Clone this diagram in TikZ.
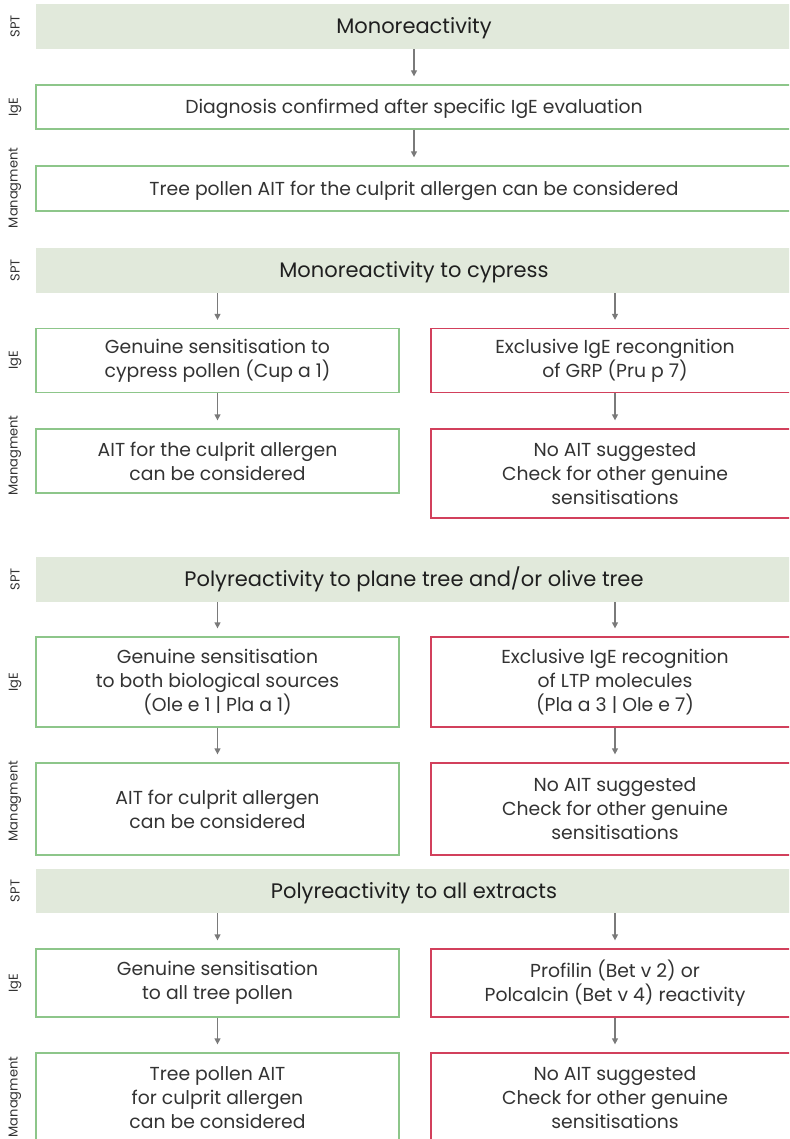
\documentclass[tikz,border=0pt]{standalone}
\usepackage{fontspec}
\setmainfont{Poppins}
\usetikzlibrary{arrows.meta}

\definecolor{bannerfill}{HTML}{E1E9DB}
\definecolor{okgreen}{HTML}{8DC68A}
\definecolor{badred}{HTML}{D2405C}
\definecolor{arrowgrey}{HTML}{7A7A7A}
\definecolor{textgrey}{HTML}{333333}

\begin{document}
\begin{tikzpicture}[x=1pt,y=-1pt,
  every node/.style={font=\fontsize{18.8}{24}\selectfont, text=textgrey, align=center, inner sep=0pt},
  banner/.style={fill=bannerfill, minimum width=756pt, minimum height=45pt, text=black!88,
    font=\fontsize{21}{24}\selectfont, text height=14.7pt, text depth=0pt},
  okbox/.style={draw=okgreen, line width=1.3pt, minimum width=#1, fill=white},
  okbox/.default=363pt,
  nobox/.style={draw=badred, line width=1.3pt, minimum width=368pt, fill=white},
  oneline/.style={text height=13.2pt, text depth=0pt},
  sidelab/.style={rotate=90, font=\fontsize{13}{14}\selectfont},
  flow/.style={draw=arrowgrey, line width=1.3pt, -{Triangle[length=6pt,width=6pt]}, shorten >=8pt}
]
\useasboundingbox (0,0) rectangle (789,1139);
\clip (0,0) rectangle (789,1139);

% side labels
\foreach \y/\t [count=\i] in {26.5/SPT, 107/IgE, 188/Managment,
    270.5/SPT, 360.5/IgE, 455.5/Managment,
    579.5/SPT, 682/IgE, 801/Managment,
    891/SPT, 983/IgE, 1097/Managment}
  \node[sidelab] (lab\i) at (15,\y) {\t};

% monoreactivity
\node[banner] (spt1) at (414,26.5) {Monoreactivity};
\node[okbox=756pt, oneline, minimum height=44pt] (ige1) at (414,107) {Diagnosis confirmed after specific IgE evaluation};
\node[okbox=756pt, oneline, minimum height=45pt] (man1) at (414,188.5) {Tree pollen AIT for the culprit allergen can be considered};
\draw[flow] (spt1) -- (ige1);
\draw[flow] (ige1) -- (man1);

% cypress
\node[banner] (spt2) at (414,270.5) {Monoreactivity to cypress};
\node[okbox, minimum height=64pt] (ige2a) at (217.5,360.5) {Genuine sensitisation to\\cypress pollen (Cup a 1)};
\node[nobox, minimum height=64pt] (ige2b) at (615,360.5) {Exclusive IgE recongnition\\of GRP (Pru p 7)};
\node[okbox, minimum height=64pt] (man2a) at (217.5,461) {AIT for the culprit allergen\\can be considered};
\node[nobox, minimum height=89pt] (man2b) at (615,473.5) {No AIT suggested\\Check for other genuine\\sensitisations};
\draw[flow] (spt2.south -| ige2a) -- (ige2a);
\draw[flow] (spt2.south -| ige2b) -- (ige2b);
\draw[flow] (ige2a) -- (man2a);
\draw[flow] (ige2b) -- (man2b);

% plane tree / olive tree
\node[banner] (spt3) at (414,579.5) {Polyreactivity to plane tree and/or olive tree};
\node[okbox, minimum height=90pt] (ige3a) at (217.5,682) {Genuine sensitisation\\to both biological sources\\(Ole e 1 | Pla a 1)};
\node[nobox, minimum height=90pt] (ige3b) at (615,682) {Exclusive IgE recognition\\of LTP molecules\\(Pla a 3 | Ole e 7)};
\node[okbox, minimum height=92pt] (man3a) at (217.5,809) {AIT for culprit allergen\\can be considered};
\node[nobox, minimum height=92pt] (man3b) at (615,809) {No AIT suggested\\Check for other genuine\\sensitisations};
\draw[flow] (spt3.south -| ige3a) -- (ige3a);
\draw[flow] (spt3.south -| ige3b) -- (ige3b);
\draw[flow] (ige3a) -- (man3a);
\draw[flow] (ige3b) -- (man3b);

% all extracts
\node[banner, minimum height=44pt] (spt4) at (414,891) {Polyreactivity to all extracts};
\node[okbox, minimum height=68pt] (ige4a) at (217.5,983) {Genuine sensitisation\\to all tree pollen};
\node[nobox, minimum height=68pt] (ige4b) at (615,983) {Profilin (Bet v 2) or\\Polcalcin (Bet v 4) reactivity};
\node[okbox, minimum height=90pt] (man4a) at (217.5,1098) {Tree pollen AIT\\for culprit allergen\\can be considered};
\node[nobox, minimum height=90pt] (man4b) at (615,1098) {No AIT suggested\\Check for other genuine\\sensitisations};
\draw[flow] (spt4.south -| ige4a) -- (ige4a);
\draw[flow] (spt4.south -| ige4b) -- (ige4b);
\draw[flow] (ige4a) -- (man4a);
\draw[flow] (ige4b) -- (man4b);
\end{tikzpicture}
\end{document}
